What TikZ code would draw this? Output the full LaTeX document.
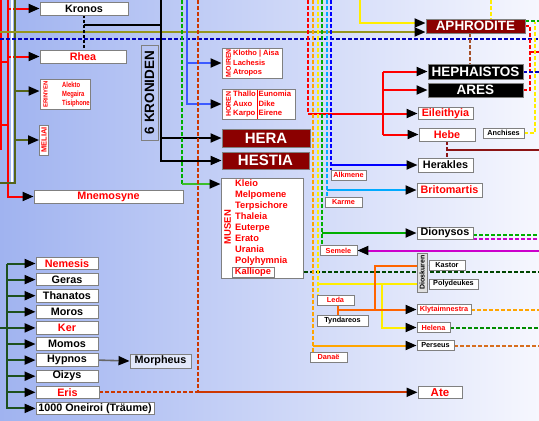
\documentclass[tikz,border=0pt]{standalone}
\usepackage{fontspec}
\usepackage{graphicx}
\setmainfont{Liberation Sans}
\usetikzlibrary{arrows.meta}
\pgfdeclarelayer{back}
\pgfdeclarelayer{wires}
\pgfsetlayers{back,wires,main}
\definecolor{bg_left}{RGB}{160,179,240}
\definecolor{bg_right}{RGB}{246,247,254}
\definecolor{box_gray}{RGB}{128,128,128}
\definecolor{god_red}{RGB}{139,0,0}
\definecolor{uranos_olive}{RGB}{150,150,30}
\definecolor{uranos_dark}{RGB}{85,100,25}
\definecolor{gaia_red}{RGB}{255,0,0}
\definecolor{deep_blue}{RGB}{0,0,190}
\definecolor{themis_blue}{RGB}{60,90,255}
\definecolor{zeus_green}{RGB}{0,175,0}
\definecolor{mnem_green}{RGB}{60,190,40}
\definecolor{eris_red}{RGB}{205,55,0}
\definecolor{danae_orange}{RGB}{255,165,0}
\definecolor{leda_yellow}{RGB}{255,238,0}
\definecolor{karme_cyan}{RGB}{0,170,255}
\definecolor{alk_blue}{RGB}{0,0,255}
\definecolor{tyn_orange}{RGB}{255,100,0}
\definecolor{semele_pink}{RGB}{204,0,204}
\definecolor{hebe_brown}{RGB}{140,20,20}
\definecolor{heph_brown}{RGB}{165,80,40}
\definecolor{nyx_green}{RGB}{30,80,30}
\definecolor{kall_green}{RGB}{0,70,0}
\definecolor{pers_brown}{RGB}{215,110,30}
\definecolor{hel_green}{RGB}{0,140,0}
\tikzstyle{nb}=[draw=box_gray,fill=white,line width=0.9pt,inner sep=0pt,
  font=\bfseries\fontsize{10.8}{12}\selectfont]
\tikzstyle{sb}=[nb,font=\bfseries\fontsize{7.3}{8}\selectfont]
\tikzstyle{gb}=[nb,fill=god_red,text=white,font=\bfseries\fontsize{15}{17}\selectfont]
\tikzstyle{kb}=[nb,fill=black,text=white,font=\bfseries\fontsize{13.5}{15}\selectfont]
\tikzstyle{nyxb}=[nb,minimum width=62pt,minimum height=12.5pt]
\tikzstyle{fem}=[text=red]
\tikzstyle{tag}=[rotate=90,inner sep=0pt,text=red,font=\bfseries\fontsize{7}{8}\selectfont]
\tikzstyle{names}=[anchor=west,align=left,inner sep=0pt,text=red]
\tikzstyle{ln}=[line width=2pt]
\tikzstyle{dl}=[line width=2pt,dash pattern=on 3.5pt off 2.5pt]
\tikzstyle{arr}=[-{Triangle[length=11pt,width=9pt,color=black]}]

\begin{document}
\begin{tikzpicture}[x=1pt,y=-1pt]
    \useasboundingbox (0,0) rectangle (539,421);
    \begin{pgfonlayer}{back}
      \shade[left color=bg_left,right color=bg_right] (0,0) rectangle (539,421);
    \end{pgfonlayer}

    % Gaia und Uranos
    \node[nb,minimum width=88pt,minimum height=13pt] (kronos) at (84,8.5) {Kronos};
    \node[nb,fem,minimum width=86pt,minimum height=13pt] (rhea) at (83,56.5) {Rhea};
    \node[nb,minimum width=50pt,minimum height=30pt] (erinyen) at (65,94) {};
    \node[tag,font=\bfseries\fontsize{6}{7}\selectfont] (erinyentag) at (45.5,94) {ERINYEN};
    \node[names,font=\bfseries\fontsize{7.5}{9}\selectfont] (erinyennames) at (62,94.5)
      {\scalebox{0.78}[1]{\begin{tabular}{@{}l@{}}Alekto\\Megaira\\Tisiphone\end{tabular}}};
    \node[nb,minimum width=9pt,minimum height=30pt] (meliai) at (44,140) {};
    \node[tag,font=\bfseries\fontsize{7.5}{8}\selectfont] (meliaitag) at (44,140) {MELIAI};
    \node[nb,fem,minimum width=149pt,minimum height=13pt] (mnemosyne) at (108.5,196.5) {Mnemosyne};
    \node[draw=box_gray,line width=0.8pt,rotate=90,inner sep=0pt,minimum width=95pt,
      minimum height=17pt,font=\bfseries\fontsize{13.5}{15}\selectfont] (kroniden) at (149.5,92.5) {6 KRONIDEN};

    % Kinder des Zeus, links
    \node[nb,minimum width=60pt,minimum height=30pt] (moiren) at (252,63) {};
    \node[tag] (moirentag) at (228.5,63) {MOIREN};
    \node[names,font=\bfseries\fontsize{7.5}{9.5}\selectfont] (moirennames) at (233,63.5) {Klotho | Aisa\\Lachesis\\Atropos};
    \node[nb,minimum width=73pt,minimum height=30pt] (horen) at (258.5,104) {};
    \node[tag] (horentag) at (228.5,104) {HOREN};
    \node[names,font=\bfseries\fontsize{7.7}{9.5}\selectfont] (horennames) at (233,104.5)
      {\begin{tabular}{@{}l@{\,}|@{\,}l@{}}Thallo&Eunomia\\Auxo&Dike\\Karpo&Eirene\end{tabular}};
    \node[gb,minimum width=88pt,minimum height=18pt] (hera) at (266,138) {HERA};
    \node[gb,minimum width=87pt,minimum height=17pt] (hestia) at (265.5,160.5) {HESTIA};
    \node[nb,minimum width=82pt,minimum height=100pt] (musen) at (262,228) {};
    \node[tag,font=\bfseries\fontsize{9.5}{10}\selectfont] (musentag) at (227.5,227) {MUSEN};
    \node[names,font=\bfseries\fontsize{9.3}{11}\selectfont] (musennames) at (235,222.5)
      {Kleio\\Melpomene\\Terpsichore\\Thaleia\\Euterpe\\Erato\\Urania\\Polyhymnia};
    \node[nb,fem,minimum width=42pt,minimum height=10pt,font=\bfseries\fontsize{9.3}{10}\selectfont] (kalliope) at (253,272) {Kalliope};

    % rechte Seite
    \node[gb,font=\bfseries\fontsize{13.5}{15}\selectfont,minimum width=99pt,minimum height=14pt] (aphrodite) at (475.5,26) {APHRODITE};
    \node[kb,minimum width=95pt,minimum height=15pt] (hephaistos) at (475.5,71.5) {HEPHAISTOS};
    \node[kb,minimum width=95pt,minimum height=14pt] (ares) at (475.5,90) {ARES};
    \node[nb,fem,minimum width=55pt,minimum height=12pt] (eileithyia) at (445.5,113.5) {Eileithyia};
    \node[nb,fem,minimum width=56pt,minimum height=13pt] (hebe) at (447,134.5) {Hebe};
    \node[sb,minimum width=41pt,minimum height=10pt] (anchises) at (503.5,133) {Anchises};
    \node[nb,minimum width=55pt,minimum height=14pt] (herakles) at (445.5,165) {Herakles};
    \node[nb,fem,minimum width=65pt,minimum height=14pt] (britomartis) at (449.5,190) {Britomartis};
    \node[nb,minimum width=56pt,minimum height=12pt] (dionysos) at (445,233) {Dionysos};
    \node[sb,fem,minimum width=35pt,minimum height=10pt] (alkmene) at (348.5,175) {Alkmene};
    \node[sb,fem,minimum width=37pt,minimum height=10pt] (karme) at (343.5,202) {Karme};
    \node[sb,fem,minimum width=37pt,minimum height=10pt] (semele) at (338.5,250.5) {Semele};
    \node[sb,fem,minimum width=37pt,minimum height=10pt] (leda) at (335.5,300) {Leda};
    \node[sb,minimum width=51pt,minimum height=11pt] (tyndareos) at (342.5,320.5) {Tyndareos};
    \node[sb,fem,minimum width=37pt,minimum height=10pt] (danae) at (328.5,357) {Danaë};
    \node[sb,minimum width=36pt,minimum height=10pt] (kastor) at (447,265.5) {Kastor};
    \node[sb,minimum width=49pt,minimum height=10pt] (polydeukes) at (453.5,284) {Polydeukes};
    \node[sb,fill=black!12,rotate=90,minimum width=39pt,minimum height=10pt,
      font=\bfseries\fontsize{7}{8}\selectfont] (dioskuren) at (422,272.5) {Dioskuren};
    \node[sb,fem,minimum width=54pt,minimum height=10pt] (klytaimnestra) at (444,309.5) {Klytaimnestra};
    \node[sb,fem,minimum width=33pt,minimum height=10pt] (helena) at (433.5,327.5) {Helena};
    \node[sb,minimum width=37pt,minimum height=10pt] (perseus) at (435.5,345.5) {Perseus};
    \node[nb,fem,font=\bfseries\fontsize{11.5}{13}\selectfont,minimum width=44pt,minimum height=12pt] (ate) at (440,392.3) {Ate};

    % Kinder der Nyx
    \node[nyxb,fem] (nemesis) at (67,263.5) {Nemesis};
    \node[nyxb] (geras) at (67,279.6) {Geras};
    \node[nyxb] (thanatos) at (67,295.7) {Thanatos};
    \node[nyxb] (moros) at (67,311.8) {Moros};
    \node[nyxb,fem] (ker) at (67,327.9) {Ker};
    \node[nyxb] (momos) at (67,344) {Momos};
    \node[nyxb] (hypnos) at (67,360.1) {Hypnos};
    \node[nyxb] (oizys) at (67,376.2) {Oizys};
    \node[nyxb,fem,minimum width=63pt] (eris) at (67.5,392.3) {Eris};
    \node[nyxb,minimum width=118pt] (oneiroi) at (95,408.4) {1000 Oneiroi (Träume)};
    \node[nb,fill=white!70!bg_left,minimum width=61pt,minimum height=14pt] (morpheus) at (160.5,361) {Morpheus};

    \begin{pgfonlayer}{wires}
      \coordinate (redge) at (539,0);
      % Gaia, Uranos
      \coordinate (gaia) at (1,0);
      \coordinate (gaiaend) at (1,150);
      \coordinate (gaiastubA) at (8,62);
      \coordinate (gaiastubB) at (8,125);
      \coordinate (gaiakids) at (8,0);
      \coordinate (uranoswhite) at (11.5,0);
      \coordinate (uranos) at (14.5,0);
      \coordinate (uranosout) at (0,183);
      \coordinate (uranosfoam) at (0,32);
      \coordinate (bluel) at (0,39);
      \draw[ln,gaia_red] (gaia) -- (gaiaend);
      \draw[ln,gaia_red] (gaiastubA -| gaia) -- (gaiastubA);
      \draw[ln,gaia_red] (gaiastubB -| gaia) -- (gaiastubB);
      \draw[ln,gaia_red,arr] (gaiakids) |- (kronos.west);
      \draw[ln,gaia_red,arr] (gaiakids) |- (rhea.west);
      \draw[ln,gaia_red,arr] (gaiakids) |- (mnemosyne.west);
      \draw[line width=2pt,white] (uranoswhite) -- (uranoswhite |- uranosout);
      \draw[ln,uranos_dark] (uranos) |- (uranosout);
      \draw[ln,uranos_dark,arr] (uranos) |- ([yshift=3pt]erinyen.west);
      \draw[ln,uranos_dark,arr] (uranos) |- (meliai.west);
      \draw[ln,uranos_olive,arr] (uranosfoam) -- (uranosfoam -| aphrodite.west);
      \draw[dl,deep_blue] (bluel) -- (bluel -| redge);

      % Kronos und Rhea
      \coordinate (kr) at (84,25);
      \coordinate (kronidenline) at (161,0);
      \draw[line width=1.4pt,dash pattern=on 3pt off 2pt] (kronos.south) -- (rhea.north -| kronos.south);
      \draw[ln] (kr) -- (kr -| kronidenline);
      \draw[ln,arr] (kronidenline) |- (hera.west);
      \draw[ln,arr] (kronidenline) |- (hestia.west);

      % Zeus, links
      \coordinate (themis) at (187,0);
      \coordinate (zeusmn) at (182,0);
      \coordinate (musenin) at (182,184);
      \coordinate (zeusate) at (198,0);
      \draw[ln,themis_blue,arr] (themis) |- (moiren.west);
      \draw[ln,themis_blue,arr] (themis) |- (horen.west);
      \draw[dl,zeus_green] (zeusmn) -- (musenin);
      \draw[ln,mnem_green,arr] (musenin) -- (musenin -| musen.west);
      \draw[dl,eris_red] (zeusate) -- (eris.east -| zeusate);
      \draw[dl,eris_red] (eris.east) -- (eris.east -| zeusate);
      \draw[ln,eris_red,arr] (eris.east -| zeusate) -- (ate.west);
      \draw[dl,kall_green] (kalliope.east) -- (kalliope.east -| redge);

      % Zeus, rechts
      \coordinate (zeushera) at (308,0);
      \coordinate (zeusdanae) at (313,0);
      \coordinate (zeusleda) at (318,0);
      \coordinate (zeussemele) at (322,0);
      \coordinate (zeuskarme) at (327,0);
      \coordinate (zeusalkmene) at (331,0);
      \coordinate (herakids) at (383,71.5);
      \coordinate (ledakids) at (382,284);
      \draw[dl,gaia_red] (zeushera) -- (zeushera |- eileithyia.west);
      \draw[ln,gaia_red,arr] (zeushera |- eileithyia.west) -- (eileithyia.west);
      \draw[ln,gaia_red] (herakids) -- (herakids |- hebe.west);
      \draw[ln,gaia_red,arr] (herakids) -- (hephaistos.west);
      \draw[ln,gaia_red,arr] (herakids |- ares.west) -- (ares.west);
      \draw[ln,gaia_red,arr] (herakids |- hebe.west) -- (hebe.west);
      \draw[dl,danae_orange] (zeusdanae) -- (zeusdanae |- danae.north);
      \draw[ln,danae_orange,arr] (zeusdanae |- perseus.west) -- (perseus.west);
      \draw[dl,leda_yellow] (zeusleda) -- (zeusleda |- leda.north);
      \draw[ln,leda_yellow,arr] (zeusleda |- polydeukes.west) -- (polydeukes.west);
      \draw[ln,leda_yellow,arr] (ledakids) |- (helena.west);
      \draw[dl,zeus_green] (zeussemele) -- (zeussemele |- semele.north);
      \draw[ln,zeus_green,arr] (zeussemele |- dionysos.west) -- (dionysos.west);
      \draw[dl,karme_cyan] (zeuskarme) -- (zeuskarme |- karme.north);
      \draw[ln,karme_cyan,arr] (zeuskarme |- britomartis.west) -- (britomartis.west);
      \draw[dl,alk_blue] (zeusalkmene) -- (zeusalkmene |- alkmene.north);
      \draw[ln,alk_blue,arr] (zeusalkmene |- herakles.west) -- (herakles.west);

      % Leda und Tyndareos
      \coordinate (tyn) at (338,309.5);
      \coordinate (tynkids) at (375,309.5);
      \draw[ln,tyn_orange] (leda.south -| tyn) -- (tyndareos.north -| tyn);
      \draw[ln,tyn_orange,arr] (tyn) -- (klytaimnestra.west);
      \draw[ln,tyn_orange,arr] (tynkids) |- (kastor.west);
      \draw[dl,danae_orange] (klytaimnestra.east) -- (klytaimnestra.east -| redge);
      \draw[dl,hel_green] (helena.east) -- (helena.east -| redge);
      \draw[dl,pers_brown] (perseus.east) -- (perseus.east -| redge);

      % Aphrodite
      \coordinate (aphy) at (360,0);
      \coordinate (aphytop) at (491,0);
      \coordinate (aphheph) at (470,33);
      \coordinate (aphgreen) at (525,21);
      \coordinate (aresknot) at (530,52);
      \coordinate (anchknot) at (535,22);
      \draw[ln,leda_yellow,arr] (aphy) |- ([yshift=3pt]aphrodite.west);
      \draw[dl,leda_yellow] (aphytop) -- (aphytop |- aphrodite.north);
      \draw[dl,heph_brown] (aphheph) -- (aphheph |- hephaistos.north);
      \draw[dl,zeus_green] (aphgreen) -- (aphgreen -| redge);
      \draw[dl,gaia_red] (aphrodite.east) -| (aresknot) |- (ares.east);
      \draw[ln,gaia_red] (aresknot) -- (aresknot -| redge);
      \draw[dl,leda_yellow] (anchises.east) -| (anchknot);
      \draw[dl,deep_blue] (hephaistos.east) -- (hephaistos.east -| redge);

      % Hebe und Herakles
      \coordinate (hh) at (447,149.5);
      \draw[dl,hebe_brown] (hebe.south) -- (herakles.north -| hebe.south);
      \draw[ln,hebe_brown] (hh) -- (hh -| redge);

      % Dionysos und Semele
      \coordinate (dionA) at (473,235);
      \coordinate (dionB) at (473,238.5);
      \coordinate (semin) at (539,250.5);
      \draw[dl,zeus_green] (dionA) -- (dionA -| redge);
      \draw[dl,semele_pink] (dionB) -- (dionB -| redge);
      \draw[ln,semele_pink,arr] (semin) -- (semele.east);

      % Nyx
      \coordinate (nyx) at (7,263.5);
      \coordinate (nyxin) at (0,328);
      \draw[ln,nyx_green] (nyxin) -- (nyxin -| nyx);
      \foreach \kid in {nemesis,geras,thanatos,moros,ker,momos,hypnos,oizys,eris,oneiroi}
        \draw[ln,nyx_green,arr] (nyx) |- (\kid.west);
      \draw[line width=1.6pt,black!60,arr] (hypnos.east) -- (morpheus.west);
    \end{pgfonlayer}
  \end{tikzpicture}
\end{document}
